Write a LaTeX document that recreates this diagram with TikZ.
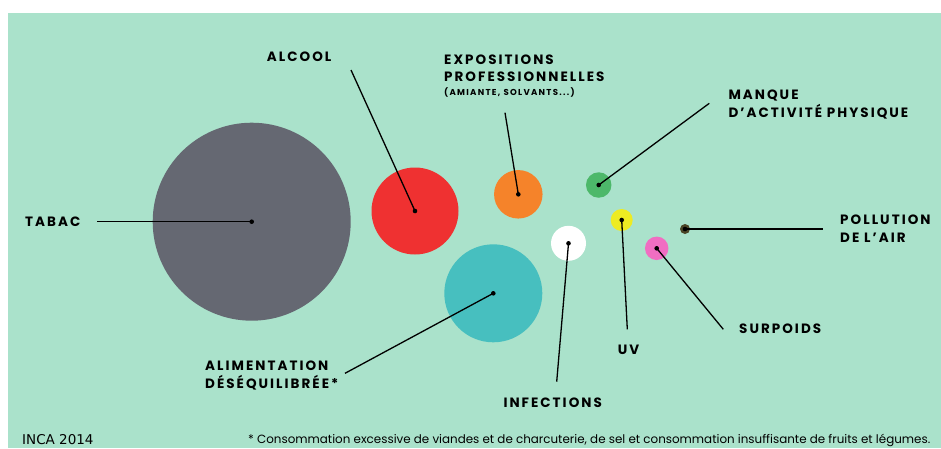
\documentclass[tikz,border=0pt]{standalone}
\usepackage{fontspec}
\usepackage{graphicx}
\newfontfamily\labfont{Poppins}[LetterSpace=15]
\newfontfamily\notefont{Poppins}
\newfontfamily\incafont{DejaVu Sans}
\definecolor{bgmint}{HTML}{AAE2CB}
\definecolor{cgray}{HTML}{656872}
\definecolor{cred}{HTML}{EF3131}
\definecolor{corange}{HTML}{F5832A}
\definecolor{cteal}{HTML}{47BFBF}
\definecolor{cgreen}{HTML}{4DB86A}
\definecolor{cyellow}{HTML}{EEEB22}
\definecolor{cpink}{HTML}{F06EC2}
\definecolor{cbrown}{HTML}{4A4526}
\tikzset{
  lab/.style={anchor=base west, inner sep=0, font=\labfont\bfseries\fontsize{13.5}{16}\selectfont},
  sublab/.style={anchor=base west, inner sep=0, font=\labfont\bfseries\fontsize{8.6}{10}\selectfont},
  bubble/.style={circle, inner sep=0, draw=none},
  lead/.style={line width=1.3pt, black},
  cdot/.style={fill=black},
}
\begin{document}
\begin{tikzpicture}[x=1pt, y=-1pt]
\useasboundingbox (0,0) rectangle (941,448);
\fill[white] (0,0) rectangle (941,448);
\fill[bgmint] (8,13) rectangle (941,448);

% bubbles
\node[bubble, fill=cgray, minimum size=198pt] (tabac) at (251.7,221.7) {};
\node[bubble, fill=cred, minimum size=87pt] (alcool) at (415,211) {};
\node[bubble, fill=corange, minimum size=48.5pt] (expo) at (518.3,194.3) {};
\node[bubble, fill=cteal, minimum size=98pt] (alim) at (493.3,293.3) {};
\node[bubble, fill=white, minimum size=35pt] (infec) at (568.5,243.3) {};
\node[bubble, fill=cgreen, minimum size=25.5pt] (manque) at (598.7,185) {};
\node[bubble, fill=cyellow, minimum size=22pt] (uv) at (621.7,220) {};
\node[bubble, fill=cpink, minimum size=23.5pt] (surp) at (656.7,248.3) {};
\node[bubble, fill=cbrown, minimum size=10pt] (poll) at (685,229) {};

% free ends of leaders
\coordinate (tabacend) at (97.3,221.7);
\coordinate (alcoolend) at (351,70);
\coordinate (expoend) at (505,112.7);
\coordinate (manqueend) at (709.3,103.3);
\coordinate (pollend) at (823.3,229);
\coordinate (surpend) at (723.3,329.3);
\coordinate (uvend) at (627.3,329.3);
\coordinate (infecend) at (556.7,381.7);
\coordinate (alimend) at (345,373.3);

% leaders
\draw[lead] (tabac.center) -- (tabacend);
\draw[lead] (alcool.center) -- (alcoolend);
\draw[lead] (expo.center) -- (expoend);
\draw[lead] (manque.center) -- (manqueend);
\draw[lead] (poll.center) -- (pollend);
\draw[lead] (surp.center) -- (surpend);
\draw[lead] (uv.center) -- (uvend);
\draw[lead] (infec.center) -- (infecend);
\draw[lead] (alim.center) -- (alimend);

% centre dots
\foreach \n in {tabac,alcool,expo,alim,infec,manque,uv,surp,poll}
  \fill[cdot] (\n.center) circle (2.3pt);

% labels
\node[lab] (ltabac) at (25,226.4) {TABAC};
\node[lab] (lalcool) at (266.7,61.4) {ALCOOL};
\node[lab] (lexpo1) at (444,64.7) {EXPOSITIONS};
\node[lab] (lexpo2) at (444,81.4) {PROFESSIONNELLES};
\node[sublab] (lexpo3) at (444,95.1) {(AMIANTE, SOLVANTS...)};
\node[lab] (lmanque1) at (728.3,99.7) {MANQUE};
\node[lab] (lmanque2) at (728.3,117.4) {D’ACTIVITÉ PHYSIQUE};
\node[lab] (lpoll1) at (840,224.7) {POLLUTION};
\node[lab] (lpoll2) at (840,242) {DE L’AIR};
\node[lab] (lsurp) at (739,333) {SURPOIDS};
\node[lab] (luv) at (617.7,354.7) {UV};
\node[lab] (linfec) at (503.3,407) {INFECTIONS};
\node[lab] (lalim1) at (205,370.4) {ALIMENTATION};
\node[lab] (lalim2) at (205,388) {DÉSÉQUILIBRÉE*};

% footer
\node[anchor=base west, inner sep=0, font=\incafont\fontsize{13.5}{15}\selectfont] (inca) at (22,444) {INCA 2014};
\node[anchor=base west, inner sep=0] (note) at (248,443.5) {\resizebox{682pt}{!}{\notefont * Consommation excessive de viandes et de charcuterie, de sel et consommation insuffisante de fruits et légumes.}};
\end{tikzpicture}
\end{document}
